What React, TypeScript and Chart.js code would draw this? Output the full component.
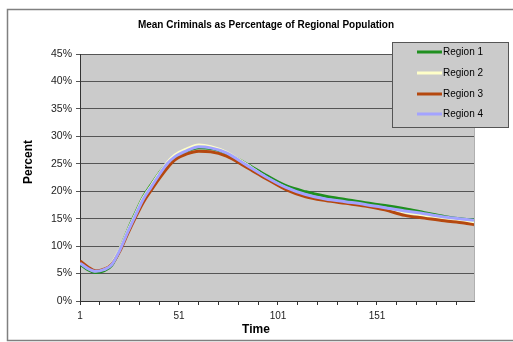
import React, { useEffect, useRef } from "react";
import { Chart, registerables } from "chart.js";

Chart.register(...registerables);

const title = "Mean Criminals as Percentage of Regional Population";
const xTitle = "Time";
const yTitle = "Percent";
const seriesNames = ["Region 1", "Region 2", "Region 3", "Region 4"];
const seriesColors = ["#1f8f1f", "#ffffc8", "#b5480f", "#a3a3ff"];

const time = [1, 5, 9, 13, 17, 21, 25, 29, 33, 37, 41, 45, 49, 55, 61, 67, 75, 85, 95, 105, 115, 125, 135, 145, 155, 165, 175, 185, 195, 200];

const region1 = [6.7, 5.7, 5.2, 5.5, 6.5, 9.3, 12.8, 16.0, 19.0, 21.2, 23.3, 25.1, 26.2, 27.3, 27.9, 27.8, 26.9, 25.0, 22.9, 21.0, 19.9, 19.1, 18.5, 17.9, 17.4, 16.8, 16.1, 15.4, 14.9, 14.8];
const region2 = [7.0, 6.0, 5.5, 5.8, 6.8, 9.4, 12.7, 15.8, 18.8, 21.0, 23.2, 25.2, 26.6, 27.7, 28.4, 28.1, 27.1, 24.9, 22.5, 20.6, 19.2, 18.4, 17.9, 17.4, 16.9, 16.2, 15.6, 15.0, 14.6, 14.4];
const region3 = [7.3, 6.2, 5.5, 5.8, 6.7, 9.0, 12.2, 15.2, 18.0, 20.2, 22.3, 24.2, 25.7, 26.8, 27.3, 27.2, 26.4, 24.4, 22.3, 20.3, 19.0, 18.3, 17.8, 17.3, 16.6, 15.6, 15.1, 14.6, 14.2, 13.9];
const region4 = [6.9, 5.9, 5.4, 5.7, 6.6, 9.2, 12.5, 15.6, 18.6, 20.8, 23.0, 25.0, 26.3, 27.4, 28.1, 27.9, 27.0, 24.8, 22.6, 20.7, 19.4, 18.6, 18.1, 17.6, 17.0, 16.4, 15.9, 15.3, 14.9, 14.7];

const xTickValues = [1, 11, 21, 31, 41, 51, 61, 71, 81, 91, 101, 111, 121, 131, 141, 151, 161, 171, 181, 191];
const xLabelValues = [1, 51, 101, 151];
const yMin = 0;
const yMax = 45;
const yStep = 5;

const allSeries = [region1, region2, region3, region4];

const decorPlugin = {
  id: "decor",
  beforeDraw(chart: any) {
    const { ctx, chartArea } = chart;
    ctx.save();
    ctx.fillStyle = "#ffffff";
    ctx.fillRect(0, 0, chart.width, chart.height);
    ctx.fillStyle = "#cbcbcb";
    ctx.fillRect(chartArea.left, chartArea.top, chartArea.right - chartArea.left, chartArea.bottom - chartArea.top);
    ctx.strokeStyle = "#b0b0b0";
    ctx.lineWidth = 1;
    ctx.beginPath();
    ctx.moveTo(chartArea.right + 0.5, chartArea.top);
    ctx.lineTo(chartArea.right + 0.5, chartArea.bottom);
    ctx.stroke();
    ctx.restore();
  },
  afterDraw(chart: any) {
    const { ctx, chartArea } = chart;
    ctx.save();
    // outer border
    ctx.strokeStyle = "#808080";
    ctx.lineWidth = 1.5;
    ctx.strokeRect(7.5, 9.5, 520, 331);
    // title
    ctx.fillStyle = "#000";
    ctx.textAlign = "center";
    ctx.textBaseline = "middle";
    ctx.font = "bold 10px 'Liberation Sans', Arial, sans-serif";
    ctx.fillText(title, 266, 25);
    // axis titles
    ctx.font = "bold 12px 'Liberation Sans', Arial, sans-serif";
    ctx.fillText(xTitle, (chartArea.left + chartArea.right) / 2 - 21, 330);
    ctx.save();
    ctx.translate(29, 162);
    ctx.rotate(-Math.PI / 2);
    ctx.fillText(yTitle, 0, 0);
    ctx.restore();
    // legend
    const lx = 392, ly = 42, lw = 116, lh = 85;
    ctx.fillStyle = "#cbcbcb";
    ctx.fillRect(lx, ly, lw, lh);
    ctx.strokeStyle = "#555";
    ctx.lineWidth = 1;
    ctx.strokeRect(lx + 0.5, ly + 0.5, lw, lh);
    const rows = [52, 73, 94, 114];
    ctx.font = "10px 'Liberation Sans', Arial, sans-serif";
    ctx.textAlign = "left";
    chart.data.datasets.forEach((ds: any, i: number) => {
      const y = rows[i];
      ctx.strokeStyle = ds.borderColor;
      ctx.lineWidth = 3;
      ctx.beginPath();
      ctx.moveTo(417, y);
      ctx.lineTo(442, y);
      ctx.stroke();
      ctx.fillStyle = "#000";
      ctx.fillText(ds.label, 443, y + 0.5);
    });
    ctx.restore();
  },
};

export default function App() {
  const ref = useRef<HTMLCanvasElement>(null);
  useEffect(() => {
    if (!ref.current) return;
    const datasets = allSeries.map((s, i) => ({
      label: seriesNames[i],
      data: s.map((v, j) => ({ x: time[j], y: v })),
      borderColor: seriesColors[i],
      backgroundColor: seriesColors[i],
      borderWidth: 3,
      pointRadius: 0,
      tension: 0.4,
      cubicInterpolationMode: "monotone" as const,
      order: 3 - i,
    }));
    const chart = new Chart(ref.current, {
      type: "line",
      data: { datasets },
      plugins: [decorPlugin],
      options: {
        responsive: false,
        animation: false,
        layout: { padding: { top: 54, left: 0, right: 39, bottom: 0 } },
        plugins: { legend: { display: false }, title: { display: false }, tooltip: { enabled: false } },
        scales: {
          x: {
            type: "linear",
            min: 1,
            max: 200,
            afterBuildTicks: (scale: any) => {
              scale.ticks = xTickValues.map((v) => ({ value: v }));
            },
            afterFit: (scale: any) => {
              scale.height = 41;
            },
            ticks: {
              autoSkip: false,
              maxRotation: 0,
              padding: 5,
              color: "#222",
              font: { family: "'Liberation Sans', Arial, sans-serif", size: 10 },
              callback: (v: any) => (xLabelValues.includes(Number(v)) ? String(v) : ""),
            },
            grid: { display: true, drawOnChartArea: false, drawTicks: true, tickLength: 4, color: "#333" },
            border: { display: true, color: "#333", width: 1 },
          },
          y: {
            type: "linear",
            min: yMin,
            max: yMax,
            afterFit: (scale: any) => {
              scale.width = 80;
            },
            ticks: {
              stepSize: yStep,
              padding: 4,
              color: "#222",
              font: { family: "'Liberation Sans', Arial, sans-serif", size: 10.5 },
              callback: (v: any) => `${v}%`,
            },
            grid: { color: "#555", lineWidth: 1, tickLength: 4 },
            border: { display: true, color: "#333", width: 1 },
          },
        },
      },
    });
    return () => chart.destroy();
  }, []);
  return (
    <div style={{ position: "absolute", left: 0, top: 0, width: 513, height: 342 }}>
      <canvas ref={ref} width={513} height={342} />
    </div>
  );
}
